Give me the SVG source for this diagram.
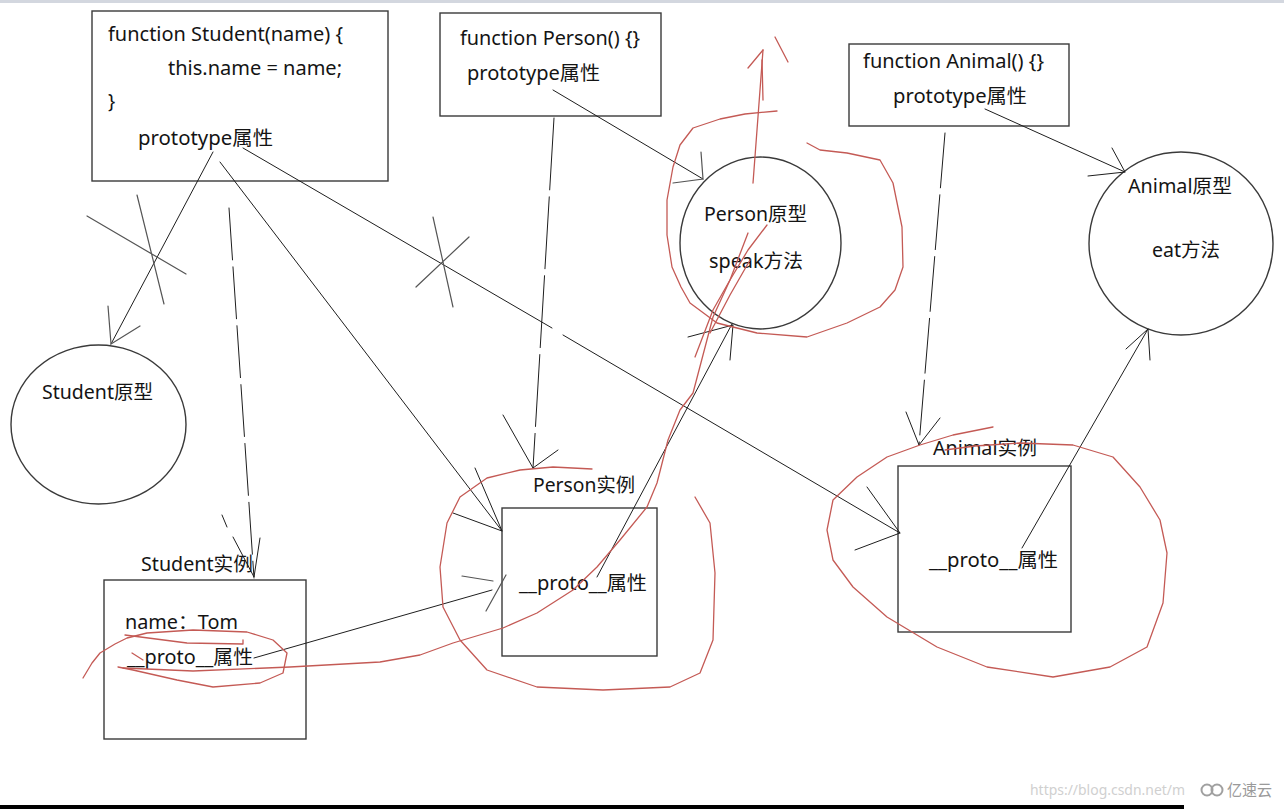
<svg xmlns="http://www.w3.org/2000/svg" width="1284" height="809" viewBox="0 0 1284 809">
<style>
text{font-family:"Noto Sans","Noto Sans CJK SC",sans-serif;font-size:19px;fill:#141414}
.box{fill:none;stroke:#3a3a3a;stroke-width:1.4}
.ln{fill:none;stroke:#1e1e1e;stroke-width:1;stroke-linecap:round}
.gl{fill:none;stroke:#555;stroke-width:1.2;stroke-linecap:round}
.red{fill:none;stroke:#c45a55;stroke-width:1.3;stroke-linecap:round;stroke-linejoin:round}
.wm{font-size:14px;fill:#d0d0d0}
</style>
<rect width="1284" height="809" fill="#fff"/>
<rect x="0" y="0" width="1284" height="3" fill="#d3d7df"/>
<rect x="0" y="805" width="1184" height="4" fill="#000"/>

<g id="student-ctor">
<rect class="box" x="92" y="11" width="296" height="170"/>
<text x="108" y="41" textLength="235" lengthAdjust="spacingAndGlyphs">function Student(name) {</text>
<text x="168" y="75" textLength="174" lengthAdjust="spacingAndGlyphs">this.name = name;</text>
<text x="108" y="108">}</text>
<text x="138" y="145" textLength="135" lengthAdjust="spacingAndGlyphs">prototype属性</text>
</g>
<g id="person-ctor">
<rect class="box" x="440" y="13" width="221" height="103"/>
<text x="460" y="45" textLength="180" lengthAdjust="spacingAndGlyphs">function Person() {}</text>
<text x="467" y="80" textLength="133" lengthAdjust="spacingAndGlyphs">prototype属性</text>
</g>
<g id="animal-ctor">
<rect class="box" x="849" y="44" width="220" height="82"/>
<text x="863" y="68" textLength="181" lengthAdjust="spacingAndGlyphs">function Animal() {}</text>
<text x="893" y="103" textLength="134" lengthAdjust="spacingAndGlyphs">prototype属性</text>
</g>
<g id="student-proto">
<ellipse class="box" cx="98.5" cy="424.5" rx="87.5" ry="79.5" stroke-width="1.2"/>
<text x="42" y="399" textLength="111" lengthAdjust="spacingAndGlyphs">Student原型</text>
</g>
<g id="person-proto">
<ellipse class="box" cx="760.5" cy="243" rx="80.5" ry="86" stroke-width="1.2"/>
<text x="704" y="221" textLength="103" lengthAdjust="spacingAndGlyphs">Person原型</text>
<text x="709" y="268" textLength="94" lengthAdjust="spacingAndGlyphs">speak方法</text>
</g>
<g id="animal-proto">
<ellipse class="box" cx="1181" cy="243.5" rx="92" ry="91.5" stroke-width="1.2"/>
<text x="1128" y="193" textLength="104" lengthAdjust="spacingAndGlyphs">Animal原型</text>
<text x="1152" y="257" textLength="68" lengthAdjust="spacingAndGlyphs">eat方法</text>
</g>
<g id="student-inst">
<text x="141" y="571" textLength="112" lengthAdjust="spacingAndGlyphs">Student实例</text>
<rect class="box" x="104" y="580" width="202" height="159"/>
<text x="125" y="629" textLength="113" lengthAdjust="spacingAndGlyphs">name：Tom</text>
<text x="127" y="664" textLength="126" lengthAdjust="spacingAndGlyphs">__proto__属性</text>
</g>
<g id="person-inst">
<text x="533" y="492" textLength="102" lengthAdjust="spacingAndGlyphs">Person实例</text>
<rect class="box" x="502" y="508" width="155" height="148"/>
<text x="519" y="590" textLength="128" lengthAdjust="spacingAndGlyphs">__proto__属性</text>
</g>
<g id="animal-inst">
<text x="933" y="455" textLength="104" lengthAdjust="spacingAndGlyphs">Animal实例</text>
<rect class="box" x="898" y="466" width="173" height="166"/>
<text x="929" y="567" textLength="129" lengthAdjust="spacingAndGlyphs">__proto__属性</text>
</g>

<g id="connectors">
<!-- Student prototype -> Student原型 (crossed) -->
<path class="ln" d="M213 152 L111 344"/>
<path class="gl" d="M108 306 L111 344 L140 326"/>
<path class="gl" d="M87 216 L186 274 M137 195 L164 304"/>
<!-- Student prototype -> Person实例 -->
<path class="ln" d="M220 162 L502 531"/>
<path class="ln" d="M475 468 L502 531 L453 513"/>
<!-- Student prototype -> Animal实例 (crossed) -->
<path class="ln" d="M243 148 L552 328 M563 335 L900 533"/>
<path class="ln" d="M867 487 L900 533 L855 550"/>
<path class="gl" d="M433 217 L453 307 M469 237 L416 287"/>
<!-- dashed Student -> Student实例 -->
<path class="ln" d="M229 208 L254 578" stroke-dasharray="52 7"/>
<path class="ln" d="M233 537 L254 577 L260 538 M222 515 L227 527"/>
<!-- dashed Person -> Person实例 -->
<path class="ln" d="M554 118 L533 468" stroke-dasharray="72 7"/>
<path class="ln" d="M503 415 L533 468 L558 450"/>
<!-- Person prototype -> Person原型 -->
<path class="ln" d="M553 90 L703 179"/>
<path class="gl" d="M701 152 L703 179 L673 183"/>
<!-- dashed Animal -> Animal实例 -->
<path class="ln" d="M945 133 L919 445" stroke-dasharray="55 7"/>
<path class="ln" d="M906 412 L919 445 L940 418"/>
<!-- Animal prototype -> Animal原型 -->
<path class="ln" d="M985 109 L1125 172"/>
<path class="ln" d="M1112 148 L1125 172 L1088 176"/>
<!-- Animal实例 __proto__ -> Animal原型 -->
<path class="ln" d="M1022 548 L1148 329"/>
<path class="ln" d="M1126 349 L1148 329 L1150 360"/>
<!-- Student __proto__ -> Person实例 -->
<path class="ln" d="M254 658 L492 590"/>
<path class="gl" d="M462 576 L493 581 M486 611 L506 575"/>
<!-- Person实例 __proto__ -> Person原型 -->
<path class="ln" d="M597 577 L732 324"/>
<path class="ln" d="M688 337 L733 325 L730 360"/>
</g>

<g id="annotations">
<!-- red arrow up -->
<path class="red" d="M753 183 L757 130 L760 90 L763 50"/>
<path class="red" d="M762 60 L763 100" stroke-width="2"/>
<path class="red" d="M748 68 L763 50 M775 37 L788 62"/>
<!-- loop around Person原型 -->
<path class="red" d="M777 111 L745 114 L720 119 L693 128 L680 145 L673 167 L667 200 L667 235 L672 267 L681 287 L690 303 L717 323 L757 333 L807 337 L847 323 L880 307 L895 290 L903 267 L902 227 L893 183 L880 160 L847 153 L820 150 L807 143"/>
<!-- Student __proto__ highlight -->
<path class="red" d="M83 678 L92 663 L100 653 L115 644 L127 638 L147 633 L193 630 L247 632 L273 640 L287 653 L283 673 L260 683 L213 687 L177 680 L133 670 L118 667"/>
<path class="red" d="M125 635 L187 643 L243 644 L243 640"/>
<path class="red" d="M132 653 L143 660"/>
<!-- long red path to Person原型 -->
<path class="red" d="M123 668 L193 671 L290 667 L380 662 L420 655 L453 643 L503 628 L537 613 L573 590 L597 567 L620 540 L647 507 L657 483 L668 440 L680 410 L693 393 L703 355 L713 317 L730 280 L748 250 L767 225"/>
<path class="red" d="M695 357 L713 310 L730 280 L748 233"/>
<path class="red" d="M710 333 L730 295 L750 260"/>
<!-- loop around Person实例 -->
<path class="red" d="M592 469 L553 467 L520 470 L487 478 L460 497 L447 523 L440 567 L443 607 L460 640 L487 670 L537 687 L603 690 L670 687 L700 673 L713 640 L715 573 L710 523 L695 497"/>
<!-- loop around Animal实例 -->
<path class="red" d="M993 427 L953 435 L920 445 L887 457 L857 477 L833 500 L827 530 L833 560 L853 587 L887 617 L937 647 L987 667 L1053 677 L1110 667 L1147 647 L1163 603 L1167 553 L1160 520 L1140 487 L1113 457 L1073 445 L1020 443 L975 446 L945 450"/>
</g>

<g id="watermark">
<text class="wm" x="1030" y="795" textLength="155" lengthAdjust="spacingAndGlyphs">https://blog.csdn.net/m</text>
<circle cx="1207" cy="790" r="5.5" fill="none" stroke="#a0a0a0" stroke-width="2"/>
<circle cx="1217" cy="790" r="5.5" fill="none" stroke="#a0a0a0" stroke-width="2"/>
<text x="1227" y="796" textLength="45" lengthAdjust="spacingAndGlyphs" style="font-size:16px;fill:#9a9a9a">亿速云</text>
</g>
</svg>
